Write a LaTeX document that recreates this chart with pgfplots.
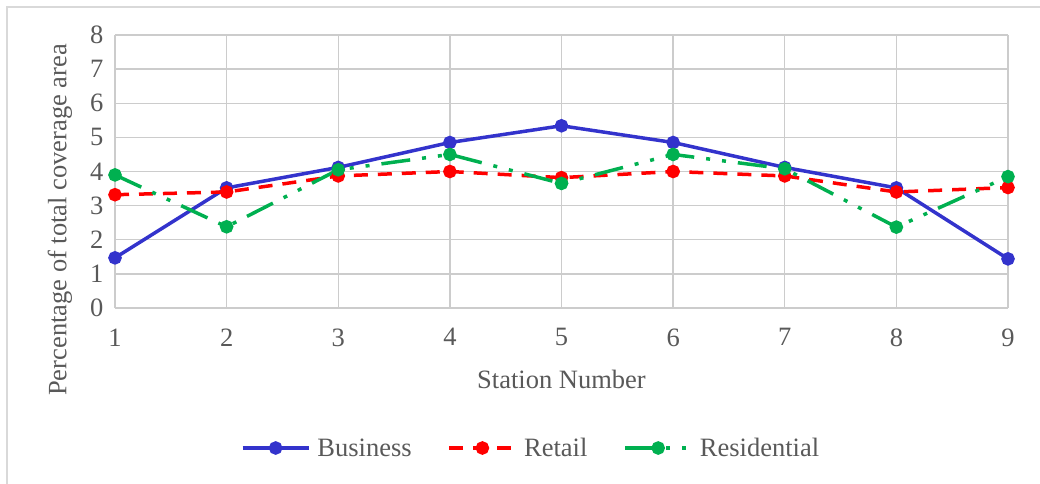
\documentclass[border=0pt]{standalone}
\usepackage{fontspec}
\setmainfont{Liberation Serif}
\usepackage{pgfplots}
\pgfplotsset{compat=1.18}
\definecolor{biz}{RGB}{51,51,204}
\definecolor{ret}{RGB}{255,0,0}
\definecolor{res}{RGB}{0,176,80}
\definecolor{txt}{RGB}{89,89,89}
\definecolor{grd}{RGB}{204,204,204}
\definecolor{frm}{RGB}{217,217,217}
\newcommand{\cf}{\fontsize{26.5}{29}\selectfont}
\begin{document}
\begin{tikzpicture}[x=1pt,y=1pt]
\begin{axis}[
  at={(115pt,175pt)}, anchor=south west, scale only axis,
  width=893pt, height=273pt,
  xmin=1, xmax=9, ymin=0, ymax=8,
  xtick={1,...,9}, ytick={0,...,8},
  grid=major, major grid style={grd, line width=1.3pt},
  axis line style={draw=none},
  tick style={draw=none},
  /pgf/number format/assume math mode=true,
  tick label style={font=\cf, text=txt},
  xticklabel style={yshift=-17pt},
  yticklabel style={xshift=-8pt},
  xlabel={Station Number},
  ylabel={Percentage of total coverage area},
  label style={font=\cf, text=txt},
  xlabel style={at={(axis description cs:0.5,-0.26)}, anchor=center},
  ylabel style={at={(axis description cs:-0.0616,0.3223)}, anchor=center},
  legend columns=3,
  legend style={at={(axis description cs:0.4659,-0.5128)}, anchor=center,
    draw=none, fill=none, font=\cf, text=txt,
    /tikz/every odd column/.append style={column sep=5pt},
    /tikz/every even column/.append style={column sep=34pt}},
  legend image code/.code={
    \draw[mark repeat=2,mark phase=2,#1] plot coordinates {(0pt,0pt) (33pt,0pt) (66pt,0pt)};},
  every axis plot/.append style={line width=3.5pt, mark=*, mark size=5pt},
]
\addplot[biz, mark options={solid, fill=biz, draw=biz}] coordinates {
(1,1.47) (2,3.52) (3,4.12) (4,4.85) (5,5.34) (6,4.85) (7,4.12) (8,3.52) (9,1.44)};
\addlegendentry{Business}
\addplot[ret, dash pattern=on 14pt off 10pt, mark options={solid, fill=ret, draw=ret}] coordinates {
(1,3.32) (2,3.40) (3,3.87) (4,4.00) (5,3.82) (6,4.00) (7,3.87) (8,3.40) (9,3.53)};
\addlegendentry{Retail}
\addplot[res, dash pattern=on 29pt off 12pt on 4pt off 12pt on 4pt off 12pt, mark options={solid, fill=res, draw=res}] coordinates {
(1,3.90) (2,2.38) (3,4.05) (4,4.50) (5,3.65) (6,4.50) (7,4.08) (8,2.37) (9,3.85)};
\addlegendentry{Residential}
\end{axis}
\draw[frm, line width=1.5pt] (7pt,-20pt) -- (7pt,476pt) -- (1060pt,476pt);
\pgfresetboundingbox
\path[use as bounding box] (0pt,0pt) rectangle (1040pt,483pt);
\end{tikzpicture}
\end{document}
